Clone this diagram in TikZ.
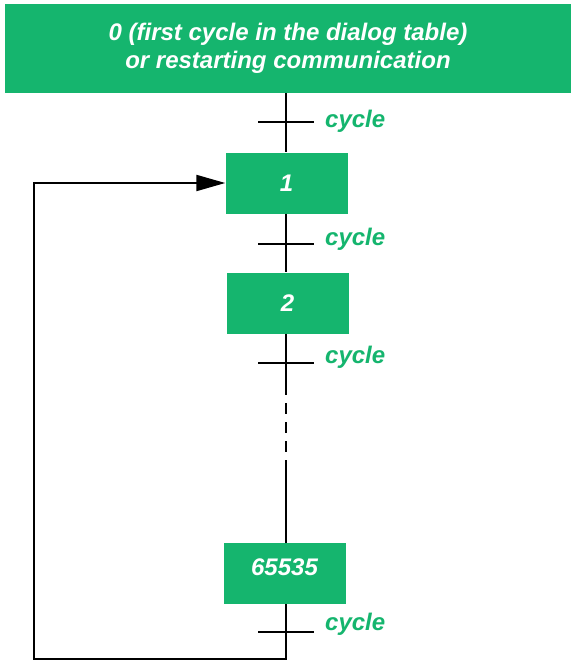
\documentclass[tikz,border=0pt]{standalone}
\usepackage{fontspec}
\setmainfont{Liberation Sans}
\usetikzlibrary{arrows.meta}
\definecolor{stepgreen}{RGB}{21,181,110}
\tikzset{
  stepbox/.style={fill=stepgreen, text=white, inner sep=0pt,
    minimum width=122pt, minimum height=61pt,
    font=\fontsize{24}{28}\selectfont\bfseries\itshape},
  cyclelabel/.style={anchor=base west, text=stepgreen, inner sep=0pt,
    font=\fontsize{24}{28}\selectfont\bfseries\itshape},
  link/.style={line width=2pt}
}
\begin{document}
\begin{tikzpicture}[x=1pt,y=-1pt]
    \useasboundingbox (0,0) rectangle (571,661);

    % Initial step
    \node[stepbox, minimum width=566pt, minimum height=89pt, align=center] (init) at (288,48.5)
      {0 (first cycle in the dialog table)\\or restarting communication};

    % Steps
    \node[stepbox] (s1) at (286.5,183) {1};
    \node[stepbox] (s2) at (287.5,303) {2};
    \node[stepbox] (sN) at (284.5,573.5) {\raisebox{12pt}{65535}};

    % Transitions
    \coordinate (t1) at (286,122);
    \coordinate (t2) at (286,244);
    \coordinate (t3) at (286,363);
    \coordinate (t4) at (286,632);
    \node[cyclelabel] (c1) at (325,127) {cycle};
    \node[cyclelabel] (c2) at (325,245) {cycle};
    \node[cyclelabel] (c3) at (325,363) {cycle};
    \node[cyclelabel] (c4) at (325,630) {cycle};

    % Links
    \draw[link] (t1 |- init.south) -- (t1 |- s1.north);
    \draw[link] (t2 |- s1.south) -- (t2 |- s2.north);
    \coordinate (gapA) at (286,395);
    \coordinate (gapB) at (286,460);
    \draw[link] (t3 |- s2.south) -- (gapA);
    \draw[link, dash pattern=on 11pt off 8pt, dash phase=11pt] (gapA) -- (gapB);
    \draw[link] (gapB) -- (gapB |- sN.north);

    % Transition bars
    \foreach \t in {t1,t2,t3,t4}
      \draw[link] ([xshift=-28pt]\t) -- ([xshift=28pt]\t);

    % Loop back to step 1
    \coordinate (back) at (34,659);
    \draw[link, -{Triangle[length=29pt,width=16pt]}]
      (t4 |- sN.south) -- (t4 |- back) -- (back) |- (s1.west);
\end{tikzpicture}
\end{document}
